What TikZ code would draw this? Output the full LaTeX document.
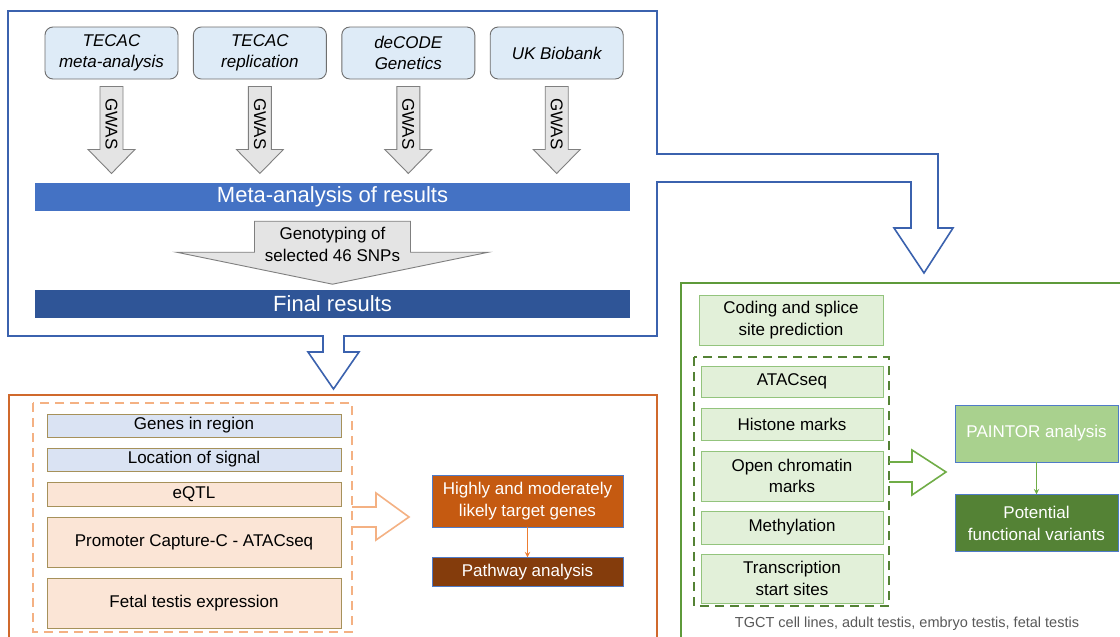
\documentclass[tikz,border=0pt]{standalone}
\usepackage{fontspec}
\setmainfont{Liberation Sans}
\usepackage{xcolor}
\usepackage{tikz}
\usetikzlibrary{calc,positioning,arrows}
\definecolor{srcfill}{HTML}{DEEBF7}
\definecolor{srcdraw}{HTML}{6E6E6E}
\definecolor{gwasfill}{HTML}{E4E4E4}
\definecolor{gwasdraw}{HTML}{7F7F7F}
\definecolor{metablue}{HTML}{4472C4}
\definecolor{finalblue}{HTML}{2F5597}
\definecolor{frameblue}{HTML}{3B62AE}
\definecolor{frameorange}{HTML}{D0692C}
\definecolor{lightorange}{HTML}{F4B183}
\definecolor{linkorange}{HTML}{ED7D31}
\definecolor{boxblue}{HTML}{DAE3F3}
\definecolor{boxorange}{HTML}{FBE5D6}
\definecolor{boxolive}{HTML}{A6915A}
\definecolor{targetorange}{HTML}{C55A11}
\definecolor{pathbrown}{HTML}{843C0C}
\definecolor{framegreen}{HTML}{5E9A3A}
\definecolor{linkgreen}{HTML}{70AD47}
\definecolor{boxgreen}{HTML}{E2F0D9}
\definecolor{boxgreendraw}{HTML}{93C47D}
\definecolor{darkgreen}{HTML}{548235}
\definecolor{paintorgreen}{HTML}{A9D18E}
\definecolor{outlineblue}{HTML}{4F7BC8}
\definecolor{captiongray}{HTML}{595959}
\newcommand{\diagfont}{\fontsize{17}{21.5}\selectfont}
\newcommand{\barfont}{\fontsize{22}{26}\selectfont}
\newcommand{\capfont}{\fontsize{14.5}{17}\selectfont}
\tikzstyle{source} = [rectangle, rounded corners=8pt, minimum width=133pt, minimum height=52pt, inner sep=0pt, align=center, draw=srcdraw, fill=srcfill, line width=0.9pt, font=\diagfont\itshape]
\tikzstyle{bar} = [rectangle, minimum width=595pt, minimum height=28pt, inner sep=0pt, text=white, font=\barfont]
\tikzstyle{gwasarrow} = [draw=gwasdraw, fill=gwasfill, line width=0.9pt, line join=miter]
\tikzstyle{gwaslabel} = [rotate=-90, inner sep=0pt, font=\diagfont]
\tikzstyle{frame} = [line width=1.6pt, line join=miter]
\tikzstyle{blockarrow} = [line width=1.6pt, line join=miter]
\tikzstyle{evidence} = [rectangle, minimum width=294pt, inner sep=0pt, align=center, draw=boxolive, line width=1pt, font=\diagfont]
\tikzstyle{target} = [rectangle, minimum width=191pt, inner sep=0pt, align=center, draw=outlineblue, line width=0.8pt, text=white, font=\diagfont]
\tikzstyle{annot} = [rectangle, inner sep=0pt, align=center, draw=boxgreendraw, fill=boxgreen, line width=1pt, font=\diagfont]
\tikzstyle{result} = [rectangle, minimum width=163pt, minimum height=57pt, inner sep=0pt, align=center, draw=outlineblue, line width=0.8pt, text=white, font=\diagfont]
\tikzstyle{arrow} = [line width=1.4pt,->,>=stealth]
\begin{document}
\begin{tikzpicture}[x=1pt,y=-1pt]
\clip (0,0) rectangle (1120,637);
\fill[white] (0,0) rectangle (1120,637);

% data sources
\node[source] (tecacma) at (111.5,53) {TECAC\\meta-analysis};
\node[source, right=14.5pt of tecacma] (tecacrep) {TECAC\\replication};
\node[source, right=14.5pt of tecacrep] (decode) {deCODE\\Genetics};
\node[source, right=14.5pt of decode] (ukbb) {UK Biobank};

\node[bar, fill=metablue] (meta) at (332.5,197) {Meta-analysis of results};
\node[bar, fill=finalblue] (final) at (332.5,304) {Final results};

\foreach \src in {tecacma,tecacrep,decode,ukbb}{
  \draw[gwasarrow] ($(\src.south)+(-11.5,7)$) -- ++(0,63) -- ++(-12,0) -- ($(\src.south)+(0,94)$)
    -- ($(\src.south)+(23.5,70)$) -- ++(-12,0) -- ($(\src.south)+(11.5,7)$) -- cycle;
  \node[gwaslabel] (gwas-\src) at ($(\src.south)+(0,44.5)$) {GWAS};
}

\draw[gwasarrow] ($(meta.south)+(-78,10)$) -- ++(0,31) -- ++(-78,0) -- ($(meta.south)+(0,73)$)
  -- ($(meta.south)+(156,41)$) -- ++(-78,0) -- ($(meta.south)+(78,10)$) -- cycle;
\node[align=center, inner sep=0pt, font=\diagfont] (geno) at ($(meta.south)+(0,33)$) {Genotyping of\\selected 46 SNPs};

% outer frames
\draw[frame, draw=frameblue] (323,336) -- (8,336) -- (8,11) -- (657,11) -- (657,154) -- (938,154)
  -- (938,228) -- (953,228) -- (924,273) -- (894,228) -- (911,228) -- (911,182) -- (657,182)
  -- (657,336) -- (344,336) -- (344,352) -- (359,352) -- (333.5,389) -- (308,352) -- (323,352) -- cycle;
\draw[frame, draw=frameorange] (9,645) -- (9,395) -- (657,395) -- (657,645);
\draw[frame, draw=framegreen] (681,645) -- (681,283) -- (1130,283);

% target genes
\draw[line width=1.4pt, draw=lightorange, dash pattern=on 9pt off 6pt] (33,403) rectangle (352,632);
\node[evidence, fill=boxblue, minimum height=23pt] (genes) at (194,425.5) {Genes in region};
\node[evidence, fill=boxblue, minimum height=23pt, below=10pt of genes] (location) {Location of signal};
\node[evidence, fill=boxorange, minimum height=24pt, below=10pt of location] (eqtl) {eQTL};
\node[evidence, fill=boxorange, minimum height=50pt, below=10pt of eqtl] (promoter) {Promoter Capture-C - ATACseq};
\node[evidence, fill=boxorange, minimum height=50pt, below=10pt of promoter] (fetal) {Fetal testis expression};
\draw[blockarrow, draw=lightorange] (352,507) -- (376,507) -- (376,493) -- (409,517) -- (376,540) -- (376,527) -- (352,527);

\node[target, fill=targetorange, minimum height=52pt] (targets) at (527.5,501) {Highly and moderately\\likely target genes};
\node[target, fill=pathbrown, minimum height=29pt, below=30pt of targets] (pathway) {Pathway analysis};
\draw[arrow, draw=linkorange] (targets) -- (pathway);

% functional variants
\node[annot, minimum width=184pt, minimum height=50pt] (coding) at (791,320) {Coding and splice\\site prediction};
\draw[line width=1.4pt, draw=darkgreen, dash pattern=on 9pt off 6pt] (694,357) rectangle (889,606);
\node[annot, minimum width=182pt, minimum height=31pt] (atac) at (792,381.5) {ATACseq};
\node[annot, minimum width=182pt, minimum height=32pt, below=10pt of atac] (histone) {Histone marks};
\node[annot, minimum width=182pt, minimum height=50pt, below=10pt of histone] (chromatin) {Open chromatin\\marks};
\node[annot, minimum width=182pt, minimum height=33pt, below=9pt of chromatin] (methyl) {Methylation};
\node[annot, minimum width=182pt, minimum height=49pt, below=9pt of methyl] (tss) {Transcription\\start sites};
\draw[blockarrow, draw=linkgreen] (889,462) -- (912,462) -- (912,450) -- (946,472) -- (912,495) -- (912,482) -- (889,482);

\node[result, fill=paintorgreen] (paintor) at (1036.5,433.5) {PAINTOR analysis};
\node[result, fill=darkgreen, below=32pt of paintor] (variants) {Potential\\functional variants};
\draw[arrow, draw=linkgreen] (paintor) -- (variants);

\node[font=\capfont, text=captiongray, inner sep=0pt] (tissues) at (907,624) {TGCT cell lines, adult testis, embryo testis, fetal testis};
\end{tikzpicture}
\end{document}
